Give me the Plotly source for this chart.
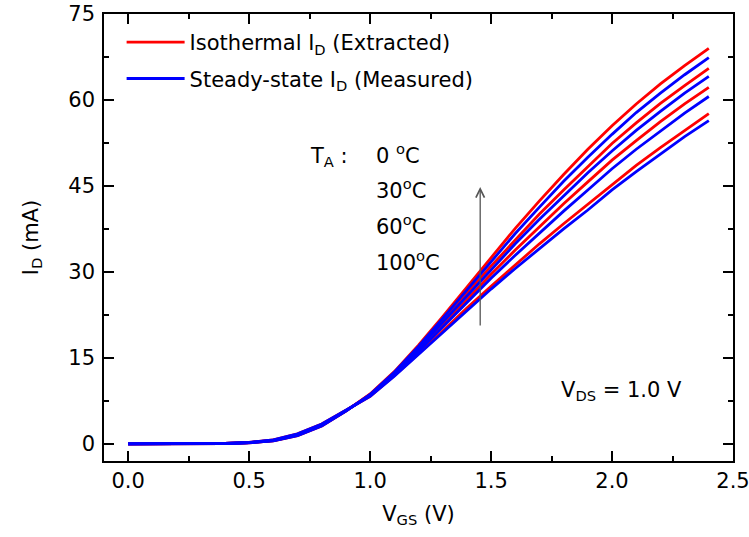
import plotly.graph_objects as go

vgs = [0.0, 0.1, 0.2, 0.3, 0.4, 0.5, 0.6, 0.7, 0.8, 0.9, 1.0, 1.1, 1.2, 1.3, 1.4,
       1.5, 1.6, 1.7, 1.8, 1.9, 2.0, 2.1, 2.2, 2.3, 2.4]

# Isothermal I_D (extracted), mA
iso_0C = [0, 0, 0, 0, 0.04, 0.18, 0.5, 1.4, 3.1, 5.7, 8.7, 12.6, 17.2, 22.2, 27.4,
          32.6, 37.6, 42.4, 47.0, 51.4, 55.5, 59.3, 62.8, 66.0, 69.0]
iso_30C = [0, 0, 0, 0, 0.05, 0.19, 0.55, 1.5, 3.2, 5.75, 8.6, 12.4, 16.8, 21.4, 26.3,
           31.0, 35.6, 40.1, 44.3, 48.4, 52.4, 56.0, 59.4, 62.5, 65.5]
iso_60C = [0, 0, 0, 0, 0.06, 0.21, 0.62, 1.6, 3.3, 5.8, 8.5, 12.2, 16.3, 20.7, 25.2,
           29.6, 33.8, 37.9, 41.9, 45.7, 49.5, 52.9, 56.2, 59.3, 62.2]
iso_100C = [0, 0, 0, 0, 0.07, 0.23, 0.7, 1.75, 3.45, 5.85, 8.3, 11.9, 15.7, 19.7, 23.7,
            27.5, 31.2, 34.9, 38.4, 41.8, 45.3, 48.6, 51.7, 54.7, 57.6]

# Steady-state I_D (measured), mA
ss_0C = [0, 0, 0, 0, 0.04, 0.18, 0.5, 1.4, 3.1, 5.7, 8.6, 12.5, 17.0, 21.9, 26.9,
         31.9, 36.7, 41.3, 45.8, 50.0, 54.0, 57.8, 61.2, 64.4, 67.4]
ss_30C = [0, 0, 0, 0, 0.05, 0.19, 0.55, 1.5, 3.2, 5.75, 8.5, 12.3, 16.6, 21.2, 25.8,
          30.4, 34.9, 39.2, 43.3, 47.3, 51.1, 54.7, 58.0, 61.2, 64.1]
ss_60C = [0, 0, 0, 0, 0.06, 0.21, 0.62, 1.6, 3.3, 5.8, 8.4, 12.1, 16.1, 20.4, 24.7,
          28.9, 32.9, 36.8, 40.6, 44.3, 48.0, 51.4, 54.6, 57.7, 60.6]
ss_100C = [0, 0, 0, 0, 0.07, 0.23, 0.7, 1.75, 3.45, 5.85, 8.3, 11.8, 15.6, 19.5, 23.3,
           27.0, 30.6, 34.1, 37.5, 40.8, 44.3, 47.5, 50.6, 53.6, 56.4]

iso_series = [iso_0C, iso_30C, iso_60C, iso_100C]
ss_series = [ss_0C, ss_30C, ss_60C, ss_100C]

x_ticks = [0.0, 0.5, 1.0, 1.5, 2.0, 2.5]
y_ticks = [0, 15, 30, 45, 60, 75]

FONT = "DejaVu Sans, Liberation Sans, Arial, sans-serif"
FS = 21

fig = go.Figure()
for i, ys in enumerate(iso_series):
    fig.add_trace(go.Scatter(
        x=vgs, y=ys, mode="lines",
        line=dict(color="#ff0000", width=2.8),
        name="Isothermal I<sub>D</sub> (Extracted)",
        legendgroup="iso", showlegend=(i == 0)))
for i, ys in enumerate(ss_series):
    fig.add_trace(go.Scatter(
        x=vgs, y=ys, mode="lines",
        line=dict(color="#0000ff", width=2.8),
        name="Steady-state I<sub>D</sub> (Measured)",
        legendgroup="ss", showlegend=(i == 0)))

ann_font = dict(family=FONT, size=FS, color="black")
annotations = [
    dict(x=1.455, y=44.8, ax=1.455, ay=20.4, xref="x", yref="y", axref="x", ayref="y",
         text="", showarrow=True, arrowhead=5, arrowsize=1.3, arrowwidth=1.3,
         arrowcolor="#555555"),
    dict(x=0.745, y=50.0, xref="x", yref="y", text="T<sub>A</sub> :", showarrow=False,
         xanchor="left", font=ann_font),
    dict(x=1.015, y=50.6, xref="x", yref="y", text="0 <sup>o</sup>C", showarrow=False,
         xanchor="left", font=ann_font),
    dict(x=1.015, y=44.5, xref="x", yref="y", text="30<sup>o</sup>C", showarrow=False,
         xanchor="left", font=ann_font),
    dict(x=1.015, y=38.2, xref="x", yref="y", text="60<sup>o</sup>C", showarrow=False,
         xanchor="left", font=ann_font),
    dict(x=1.015, y=31.9, xref="x", yref="y", text="100<sup>o</sup>C", showarrow=False,
         xanchor="left", font=ann_font),
    dict(x=1.78, y=9.2, xref="x", yref="y", text="V<sub>DS</sub> = 1.0 V", showarrow=False,
         xanchor="left", font=ann_font),
]

axis_common = dict(
    showline=True, linecolor="black", linewidth=1.5, mirror="ticks",
    ticks="inside", ticklen=10, tickwidth=1.5, tickcolor="black",
    showgrid=False, zeroline=False, automargin=False, ticklabeloverflow="allow",
    tickfont=dict(family=FONT, size=FS, color="black"),
)

fig.update_layout(
    width=749, height=537,
    margin=dict(l=104, r=16, t=14, b=76),
    paper_bgcolor="white", plot_bgcolor="white",
    font=dict(family=FONT, size=FS, color="black"),
    xaxis=dict(range=[-0.1, 2.5], tickvals=x_ticks, tickformat=".1f",
               minor=dict(ticks="inside", ticklen=5, dtick=0.25, tick0=0, tickcolor="black", tickwidth=1.5),
               title=dict(text="V<sub>GS</sub> (V)", font=dict(family=FONT, size=FS), standoff=14),
               **axis_common),
    yaxis=dict(range=[-3, 75], tickvals=y_ticks, ticklabelstandoff=3,
               minor=dict(ticks="inside", ticklen=5, dtick=7.5, tick0=0, tickcolor="black", tickwidth=1.5),
               title=dict(text="I<sub>D</sub> (mA)", font=dict(family=FONT, size=FS), standoff=24),
               **axis_common),
    legend=dict(x=0.028, y=0.982, xanchor="left", yanchor="top",
                bgcolor="rgba(0,0,0,0)", font=dict(family=FONT, size=FS),
                tracegroupgap=6, itemwidth=58),
    annotations=annotations,
)

# remove the browser's default 8 px body margin so the figure starts at (0, 0)
fig.write_html("out.html", config={"displayModeBar": False},
               post_script="document.body.style.margin='0';")
